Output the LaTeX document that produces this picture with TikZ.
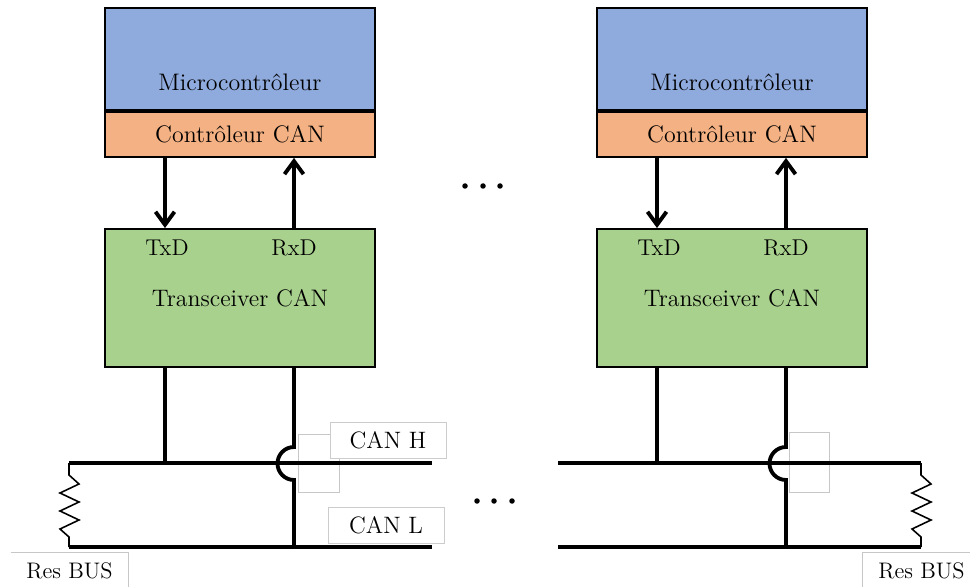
\documentclass[tikz,border=0pt]{standalone}
\usetikzlibrary{arrows.meta}

\definecolor{mcublue}{HTML}{8FAADC}
\definecolor{canorange}{HTML}{F4B183}
\definecolor{trxgreen}{HTML}{A9D18E}

\tikzset{
	blockbox/.style={draw, line width=1.1pt, minimum width=5.4cm, inner sep=0pt, font=\fontsize{13.6}{16}\selectfont},
	lbl/.style={inner sep=0pt, font=\fontsize{13.6}{16}\selectfont},
	wire/.style={line width=2.2pt},
	reswire/.style={line width=0.9pt},
	sig/.style={wire, -{Straight Barb[length=2.6mm,width=3.8mm]}},
	tagbox/.style={draw=black!20, line width=0.5pt, fill=white, minimum width=2.32cm, minimum height=0.72cm, inner sep=0pt, font=\fontsize{13.5}{16}\selectfont},
	ghost/.style={draw=black!22, line width=0.5pt},
}

\begin{document}
\begin{tikzpicture}[x=0.02cm, y=-0.02cm]
	\useasboundingbox (0,0) rectangle (970,587);
	
	%stray text box frames
	\draw[ghost] (298,434) rectangle (339,492);
	\draw[ghost] (789,432) rectangle (829,492);
	
	%the two CAN nodes
	\foreach \m/\dx in {a/0,b/492}
	{
		\begin{scope}[shift={(\dx,0)}]
			\node[blockbox, fill=mcublue, minimum height=2.04cm] (mcu\m) at (240,59) {};
			\node[lbl] (mcutext\m) at (240,82) {Microcontrôleur};
			\node[blockbox, fill=canorange, minimum height=0.9cm, anchor=north] (ctrl\m) at (mcu\m.south) {Contrôleur CAN};
			\node[blockbox, fill=trxgreen, minimum height=2.76cm] (trx\m) at (240,298) {Transceiver CAN};
			\node[lbl, font=\fontsize{13}{15}\selectfont] (txd\m) at (167,248) {TxD};
			\node[lbl, font=\fontsize{13}{15}\selectfont] (rxd\m) at (294,248) {RxD};
			\coordinate (tx\m) at (165,0);
			\coordinate (rx\m) at (294,0);
			\draw[sig] (ctrl\m.south -| tx\m) -- (trx\m.north -| tx\m);
			\draw[sig] (trx\m.north -| rx\m) -- (ctrl\m.south -| rx\m);
			%CAN H tap
			\coordinate (hTap\m) at (165,463);
			\draw[wire] (trx\m.south -| tx\m) -- (hTap\m);
			%CAN L tap, hopping over CAN H
			\coordinate (hopTop\m) at (294,447);
			\coordinate (lTap\m) at (294,547);
			\draw[wire] (trx\m.south -| rx\m) -- (hopTop\m) arc[start angle=90, end angle=270, radius=0.33cm] -- (lTap\m);
		\end{scope}
	}
	
	%bus lines
	\coordinate (hLa) at (69,463);
	\coordinate (hRa) at (432,463);
	\coordinate (lLa) at (69,547);
	\coordinate (lRa) at (432,547);
	\coordinate (hLb) at (558,463);
	\coordinate (hRb) at (921,463);
	\coordinate (lLb) at (558,547);
	\coordinate (lRb) at (921,547);
	\draw[wire] (hLa) -- (hRa);
	\draw[wire] (lLa) -- (lRa);
	\draw[wire] (hLb) -- (hRb);
	\draw[wire] (lLb) -- (lRb);
	
	%end resistors
	\draw[reswire] (hLa) -- ++(0,12) -- ++(10,9) -- ++(-19,9) -- ++(19,9) -- ++(-19,9) -- ++(19,9) -- ++(-19,9) -- ++(9,8) -- (lLa);
	\draw[reswire] (hRb) -- ++(0,12) -- ++(10,9) -- ++(-19,9) -- ++(19,9) -- ++(-19,9) -- ++(19,9) -- ++(-19,9) -- ++(9,8) -- (lRb);
	
	%labels
	\node[tagbox] (canH) at (388,440.5) {CAN H};
	\node[tagbox] (canL) at (386,525) {CAN L};
	\node[lbl, font=\fontsize{12.8}{15}\selectfont, minimum width=2.34cm, minimum height=0.72cm] (resa) at (69.5,571) {Res BUS};
	\node[lbl, font=\fontsize{12.8}{15}\selectfont, minimum width=2.34cm, minimum height=0.72cm] (resb) at (921.5,571) {Res BUS};
	\draw[ghost] (resa.north west) -- (resa.north east) -- (resa.south east);
	\draw[ghost] (resb.south west) -- (resb.north west) -- (resb.north east);
	
	%dots
	\foreach \x in {465,483,500}
	\fill (\x,186) circle (0.055cm);
	\foreach \x in {477,494,512}
	\fill (\x,501) circle (0.055cm);
\end{tikzpicture}
\end{document}
